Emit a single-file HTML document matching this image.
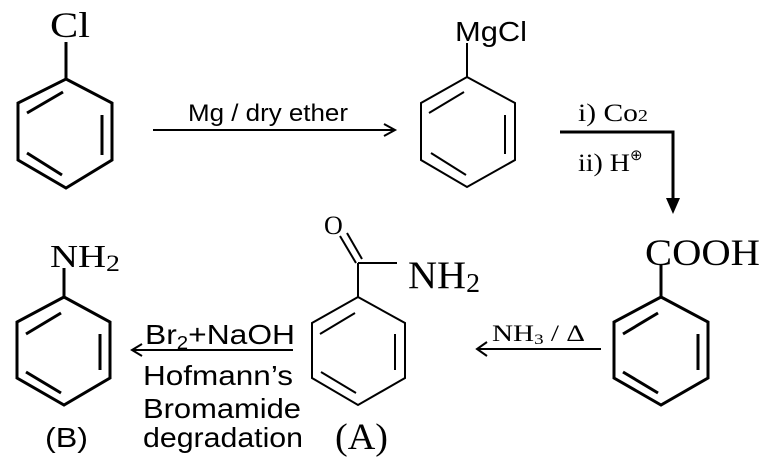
<!DOCTYPE html>
<html><head><style>body{margin:0;background:#fff}svg{display:block}</style></head><body>
<svg width="765" height="460" viewBox="0 0 765 460" xmlns="http://www.w3.org/2000/svg">
<g fill="none" stroke="#000" stroke-width="3" stroke-linejoin="miter">
<line x1="66" y1="42" x2="66" y2="79"/>
<polygon points="66,79 112,103 112,160 66,188 18,160 18,103"/>
<line x1="27" y1="113" x2="63" y2="92"/><line x1="102" y1="115" x2="102" y2="155"/><line x1="27" y1="153" x2="62" y2="175"/>
<line x1="64" y1="268" x2="64" y2="297"/>
<polygon points="64,297 110,322 110,378 64,405 17,378 17,322"/>
<line x1="26" y1="334" x2="61" y2="313"/><line x1="100" y1="334" x2="100" y2="370"/><line x1="26" y1="372" x2="61" y2="393"/>
<line x1="661" y1="265" x2="661" y2="297"/>
<polygon points="661,297 708,322 708,378 661,405 614,378 614,322"/>
<line x1="623" y1="334" x2="658" y2="313"/><line x1="698" y1="334" x2="698" y2="370"/><line x1="623" y1="372" x2="658" y2="393"/>
</g>
<g fill="none" stroke="#000" stroke-width="2">
<line x1="467" y1="43" x2="467" y2="77"/>
<polygon points="467,77 515,103 515,160 467,187 421,160 421,103"/>
<line x1="429" y1="113" x2="464" y2="92"/><line x1="505" y1="115" x2="505" y2="154"/><line x1="431" y1="153" x2="466" y2="175"/>
<line x1="340" y1="236" x2="356" y2="263"/><line x1="347" y1="233" x2="362" y2="259"/>
<line x1="358" y1="263" x2="397" y2="263"/>
<line x1="358" y1="263" x2="358" y2="297"/>
<polygon points="358,297 405,323 405,378 358,405 312,378 312,323"/>
<line x1="320" y1="334" x2="355" y2="313"/><line x1="395" y1="334" x2="395" y2="370"/><line x1="321" y1="372" x2="356" y2="393"/>
<line x1="153" y1="130" x2="395" y2="130"/><polyline points="384,124 395,130 384,136"/>
<line x1="601" y1="349" x2="477" y2="349"/><polyline points="487,342 477,349 487,356"/>
<line x1="293" y1="350" x2="132" y2="350"/><polyline points="142,344 132,350 142,356"/>
</g>
<polyline points="560,132 673,132 673,200" fill="none" stroke="#000" stroke-width="3"/>
<polygon points="666,198 680,198 673,214" fill="#000"/>
<g font-family="Liberation Serif, serif" fill="#000">
<text x="50" y="37" font-size="36" textLength="40" lengthAdjust="spacingAndGlyphs">Cl</text>
<text x="50" y="267" font-size="32" textLength="70" lengthAdjust="spacingAndGlyphs">NH<tspan font-size="23" dy="4">2</tspan></text>
<text x="645" y="265" font-size="37" textLength="115" lengthAdjust="spacingAndGlyphs">COOH</text>
<text x="324" y="234" font-size="26">O</text>
<text x="408" y="288" font-size="39" textLength="72" lengthAdjust="spacingAndGlyphs">NH<tspan font-size="27" dy="4">2</tspan></text>
<text x="335" y="449" font-size="37" textLength="53" lengthAdjust="spacingAndGlyphs">(A)</text>
<text x="578" y="121" font-size="25" textLength="70" lengthAdjust="spacingAndGlyphs">i) Co<tspan font-size="17">2</tspan></text>
<text x="578" y="171" font-size="25" textLength="52" lengthAdjust="spacingAndGlyphs">ii) H</text>
<text x="630" y="160" font-size="15">⊕</text>
<text x="492" y="341" font-size="23" textLength="93" lengthAdjust="spacingAndGlyphs">NH<tspan font-size="15" dy="3">3</tspan><tspan dy="-3"> / Δ</tspan></text>
</g>
<g font-family="Liberation Sans, sans-serif" fill="#000">
<text x="455" y="41" font-size="28" textLength="72" lengthAdjust="spacingAndGlyphs">MgCl</text>
<text x="188" y="121" font-size="24" textLength="160" lengthAdjust="spacingAndGlyphs">Mg / dry ether</text>
<text x="145" y="344" font-size="28" textLength="150" lengthAdjust="spacingAndGlyphs">Br<tspan font-size="18" dy="5">2</tspan><tspan dy="-5">+NaOH</tspan></text>
<text x="143" y="385" font-size="28" textLength="150" lengthAdjust="spacingAndGlyphs">Hofmann’s</text>
<text x="143" y="418" font-size="28" textLength="158" lengthAdjust="spacingAndGlyphs">Bromamide</text>
<text x="143" y="447" font-size="28" textLength="160" lengthAdjust="spacingAndGlyphs">degradation</text>
<text x="45" y="447" font-size="28" textLength="43" lengthAdjust="spacingAndGlyphs">(B)</text>
</g>
</svg>
</body></html>
